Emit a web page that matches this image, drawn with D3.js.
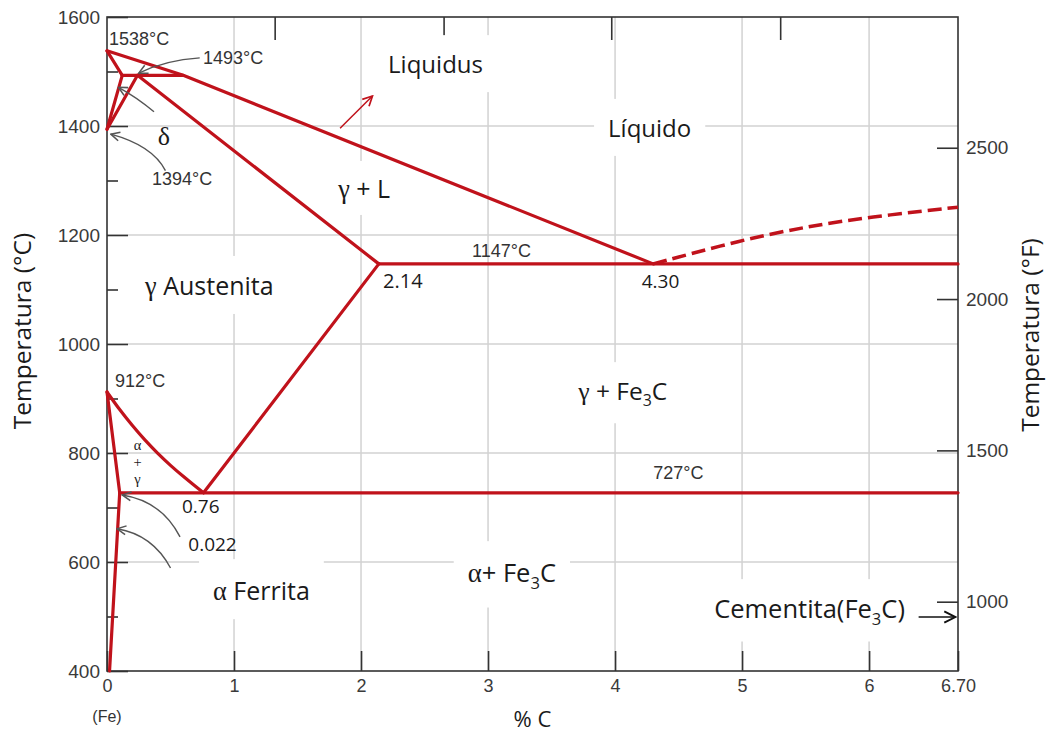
<!DOCTYPE html>
<html>
<head>
<meta charset="utf-8">
<script src="https://cdn.jsdelivr.net/npm/d3@7"></script>
<style>
  body { margin: 0; background: #fff; }
  svg { display: block; }
  .tick text { font-family: "Liberation Sans", Arial, sans-serif; fill: #3a3a3a; }
</style>
</head>
<body>
<svg id="chart" width="1056" height="738"></svg>
<script>
// ---- axes ----
const carbonTicks = [0, 1, 2, 3, 4, 5, 6, 6.70];
const celsiusMajor = [400, 600, 800, 1000, 1200, 1400, 1600];
const celsiusMinor = [500, 700, 900, 1100, 1300, 1500];
const fahrenheitTicks = [1000, 1500, 2000, 2500];
const fahrenheitDomain = [771, 2932];
const topTicks = [1.32, 2.65, 3.97, 5.30];
const gridCelsius = [600, 800, 1000, 1200, 1400];
const gridCarbon = [1, 2, 3, 4, 5, 6];

// ---- phase boundaries, [%C, °C] ----
const liquidus = [[0, 1538], [0.60, 1493], [4.30, 1147]];
const deltaSolidus = [[0, 1538], [0.12, 1493]];
const deltaGamma = [[0.12, 1493], [0, 1394]];
const gammaDelta = [[0, 1394], [0.24, 1493]];
const peritectic = [[0.12, 1493], [0.60, 1493]];
const gammaSolidus = [[0.24, 1493], [2.14, 1147]];
const eutectic = [[2.14, 1147], [6.70, 1147]];
const acm = [[2.14, 1147], [0.76, 727]];
const a3 = [[0, 912], [0.1, 879], [0.2, 850], [0.3, 823], [0.4, 799], [0.5, 777], [0.6, 757], [0.7, 738], [0.76, 727]];
const alphaGamma = [[0, 912], [0.10, 727]];
const solvus = [[0.10, 727], [0.02, 400]];
const eutectoid = [[0.10, 727], [6.70, 727]];
const cementiteLiquidus = [[4.30, 1147], [5.0, 1191], [5.5, 1215], [6.0, 1233], [6.70, 1251]];

// ---- text ----
const labels = [
  { x: 0.016, y: 1549, size: 18, font: "sans", parts: [{ t: "1538°C" }] },
  { x: 0.756, y: 1514, size: 18, font: "sans", parts: [{ t: "1493°C" }] },
  { x: 2.213, y: 1497, size: 24, font: "open", parts: [{ t: "Liquidus" }], box: [14, 12, 14, 12] },
  { x: 3.945, y: 1380, size: 24, font: "open", parts: [{ t: "Líquido" }], box: [14, 12, 14, 12] },
  { x: 0.40, y: 1365, size: 26, font: "serif", parts: [{ t: "δ" }] },
  { x: 0.354, y: 1292, size: 18, font: "sans", parts: [{ t: "1394°C" }] },
  { x: 1.82, y: 1268, size: 25, font: "open", parts: [{ t: "γ", serif: true }, { t: " + L" }], box: [12, 10, 12, 10] },
  { x: 2.874, y: 1160, size: 18, font: "sans", parts: [{ t: "1147°C" }] },
  { x: 2.173, y: 1103, size: 20, font: "open", parts: [{ t: "2.14" }] },
  { x: 4.21, y: 1103, size: 19, font: "open", parts: [{ t: "4.30" }] },
  { x: 0.30, y: 1090, size: 25, font: "open", parts: [{ t: "γ", serif: true }, { t: " Austenita" }], box: [14, 12, 14, 12] },
  { x: 0.063, y: 921, size: 18, font: "sans", parts: [{ t: "912°C" }] },
  { x: 4.30, y: 752, size: 18, font: "sans", parts: [{ t: "727°C" }] },
  { x: 0.59, y: 690, size: 19, font: "open", parts: [{ t: "0.76" }] },
  { x: 0.64, y: 620, size: 19, font: "open", parts: [{ t: "0.022" }] },
  { x: 3.71, y: 897, size: 24.5, font: "open", parts: [{ t: "γ", serif: true }, { t: " + Fe" }, { t: "3", sub: true }, { t: "C" }], box: [14, 12, 14, 12] },
  { x: 0.835, y: 530, size: 25, font: "open", parts: [{ t: "α", serif: true }, { t: " Ferrita" }], box: [14, 14, 14, 12] },
  { x: 2.84, y: 563, size: 25.5, font: "open", parts: [{ t: "α", serif: true }, { t: "+ Fe" }, { t: "3", sub: true }, { t: "C" }], box: [14, 14, 14, 14] },
  { x: 4.78, y: 497, size: 25.5, font: "open", parts: [{ t: "Cementita(Fe" }, { t: "3", sub: true }, { t: "C)" }], box: [14, 12, 14, 12] }
];
// stacked "α + γ" in the narrow two-phase field
const stackedLabel = { x: 0.24, y: 806, lines: ["α", "+", "γ"] };

// gray pointer arrows: start, control, end in [%C, °C]
const pointers = [
  [[0.73, 1525], [0.46, 1521], [0.25, 1497]],
  [[0.37, 1426], [0.24, 1452], [0.09, 1471]],
  [[0.46, 1318], [0.36, 1364], [0.03, 1385]],
  [[0.575, 646], [0.43, 712], [0.12, 723]],
  [[0.50, 589], [0.36, 650], [0.08, 661]]
];
const liquidusPointer = [[1.835, 1396], [2.09, 1455]];
const cementitePointer = [[6.39, 499], [6.68, 499]];

// ---- layout ----
const plot = { left: 107, right: 958, top: 17, bottom: 671 };
const red = "#c0121b";
const svg = d3.select("#chart");

const x = d3.scaleLinear().domain([0, 6.70]).range([plot.left, plot.right]);
const y = d3.scaleLinear().domain([400, 1600]).range([plot.bottom, plot.top]);
const yF = d3.scaleLinear().domain(fahrenheitDomain).range([plot.bottom, plot.top]);

const defs = svg.append("defs");
function arrowMarker(id, color, w) {
  defs.append("marker")
    .attr("id", id).attr("viewBox", "0 0 10 10")
    .attr("refX", 9).attr("refY", 5)
    .attr("markerWidth", w).attr("markerHeight", w)
    .attr("markerUnits", "userSpaceOnUse")
    .attr("orient", "auto")
    .append("path").attr("d", "M1,1 L9,5 L1,9")
    .attr("fill", "none").attr("stroke", color).attr("stroke-width", 1.4);
}
arrowMarker("arrGray", "#555", 11);
arrowMarker("arrRed", red, 12);
arrowMarker("arrBlack", "#111", 14);

// grid
const gGrid = svg.append("g").attr("stroke", "#d2d2d2").attr("stroke-width", 1.5);
gGrid.selectAll(".gx").data(gridCarbon).join("line")
  .attr("x1", d => x(d)).attr("x2", d => x(d))
  .attr("y1", plot.top).attr("y2", plot.bottom);
gGrid.selectAll(".gy").data(gridCelsius).join("line")
  .attr("x1", plot.left).attr("x2", plot.right)
  .attr("y1", d => y(d)).attr("y2", d => y(d));

// axes
function styleAxis(g) {
  g.select(".domain").remove();
  g.selectAll(".tick line").attr("stroke", "#333").attr("stroke-width", 1.6);
}
svg.append("g").attr("transform", `translate(${plot.left},0)`)
  .call(d3.axisLeft(y).tickValues(celsiusMajor).tickSize(-21).tickPadding(7).tickFormat(d3.format("d")))
  .call(styleAxis)
  .call(g => g.selectAll(".tick text").attr("font-size", 19));
svg.append("g").attr("transform", `translate(${plot.left},0)`)
  .call(d3.axisLeft(y).tickValues(celsiusMinor).tickSize(-11).tickFormat(""))
  .call(styleAxis);
svg.append("g").attr("transform", `translate(0,${plot.bottom})`)
  .call(d3.axisBottom(x).tickValues(carbonTicks).tickSize(-20).tickPadding(8)
    .tickFormat(d => d === 6.70 ? "6.70" : d3.format("d")(d)))
  .call(styleAxis)
  .call(g => g.selectAll(".tick text").attr("font-size", 18));
svg.append("g").attr("transform", `translate(0,${plot.top})`)
  .call(d3.axisTop(x).tickValues(topTicks).tickSize(-23).tickFormat(""))
  .call(styleAxis);
svg.append("g").attr("transform", `translate(${plot.right},0)`)
  .call(d3.axisRight(yF).tickValues(fahrenheitTicks).tickSize(-21).tickPadding(8).tickFormat(d3.format("d")))
  .call(styleAxis)
  .call(g => g.selectAll(".tick text").attr("font-size", 19));

// label backgrounds go here, beneath the phase lines
const gBoxes = svg.append("g");

// frame
svg.append("rect")
  .attr("x", plot.left).attr("y", plot.top)
  .attr("width", plot.right - plot.left).attr("height", plot.bottom - plot.top)
  .attr("fill", "none").attr("stroke", "#333").attr("stroke-width", 1.6);

// phase boundaries
const line = d3.line().x(d => x(d[0])).y(d => y(d[1]));
const curve = d3.line().x(d => x(d[0])).y(d => y(d[1])).curve(d3.curveBasis);
const gLines = svg.append("g").attr("fill", "none").attr("stroke", red)
  .attr("stroke-width", 3.2).attr("stroke-linejoin", "round").attr("stroke-linecap", "round");
[liquidus, deltaSolidus, deltaGamma, gammaDelta, peritectic, gammaSolidus,
 eutectic, acm, alphaGamma, solvus, eutectoid].forEach(d => gLines.append("path").attr("d", line(d)));
gLines.append("path").attr("d", curve(a3));
gLines.append("path").attr("d", curve(cementiteLiquidus))
  .attr("stroke-width", 3.5).attr("stroke-dasharray", "14 6").attr("stroke-linecap", "butt");

// pointers
const quad = p => `M${x(p[0][0])},${y(p[0][1])} Q${x(p[1][0])},${y(p[1][1])} ${x(p[2][0])},${y(p[2][1])}`;
svg.append("g").selectAll("path").data(pointers).join("path")
  .attr("d", quad).attr("fill", "none").attr("stroke", "#555").attr("stroke-width", 1.4)
  .attr("marker-end", "url(#arrGray)");
svg.append("path").attr("d", line(liquidusPointer))
  .attr("fill", "none").attr("stroke", red).attr("stroke-width", 1.5)
  .attr("marker-end", "url(#arrRed)");
svg.append("path").attr("d", line(cementitePointer))
  .attr("fill", "none").attr("stroke", "#111").attr("stroke-width", 1.6)
  .attr("marker-end", "url(#arrBlack)");

// labels
const fonts = {
  sans: "'Liberation Sans', Arial, sans-serif",
  open: "'Open Sans', sans-serif",
  serif: "'Liberation Serif', 'Times New Roman', serif"
};
const gLabels = svg.append("g");
labels.forEach(l => {
  const t = gLabels.append("text")
    .attr("x", x(l.x)).attr("y", y(l.y))
    .attr("font-family", fonts[l.font]).attr("font-size", l.size)
    .attr("fill", l.font === "sans" ? "#333" : "#1a1a1a")
    .attr("text-anchor", l.anchor || "start");
  l.parts.forEach((p, i) => {
    const s = t.append("tspan").text(p.t);
    if (p.serif) s.attr("font-family", fonts.serif).attr("font-size", l.size * 1.05);
    if (p.sub) s.attr("font-size", l.size * 0.65).attr("dy", l.size * 0.25);
    else if (i > 0 && l.parts[i - 1].sub) s.attr("dy", -l.size * 0.25);
  });
  if (l.box) {
    const b = t.node().getBBox();
    gBoxes.append("rect")
      .attr("x", b.x - l.box[0]).attr("y", b.y - l.box[1])
      .attr("width", b.width + l.box[0] + l.box[2]).attr("height", b.height + l.box[1] + l.box[3])
      .attr("fill", "#fff");
  }
});
gLabels.append("text")
  .attr("x", x(stackedLabel.x)).attr("y", y(stackedLabel.y))
  .attr("font-family", fonts.serif).attr("font-size", 14.5).attr("fill", "#1a1a1a")
  .attr("text-anchor", "middle")
  .selectAll("tspan").data(stackedLabel.lines).join("tspan")
  .attr("x", x(stackedLabel.x)).attr("dy", (d, i) => i === 0 ? 0 : 17)
  .text(d => d);

// axis titles
const title = (tx, ty, rot, str) => svg.append("text")
  .attr("transform", `translate(${tx},${ty}) rotate(${rot})`)
  .attr("text-anchor", "middle").attr("font-family", fonts.open).attr("font-size", 24.5)
  .attr("fill", "#1a1a1a").text(str);
title(31, 331, -90, "Temperatura (°C)");
title(1039, 335, -90, "Temperatura (°F)");
svg.append("text").attr("x", (x(0) + x(6.70)) / 2).attr("y", 727)
  .attr("text-anchor", "middle").attr("font-family", fonts.open).attr("font-size", 22)
  .attr("fill", "#1a1a1a").text("% C");
svg.append("text").attr("x", x(0)).attr("y", 722)
  .attr("text-anchor", "middle").attr("font-family", fonts.sans).attr("font-size", 16)
  .attr("fill", "#333").text("(Fe)");
</script>
</body>
</html>
